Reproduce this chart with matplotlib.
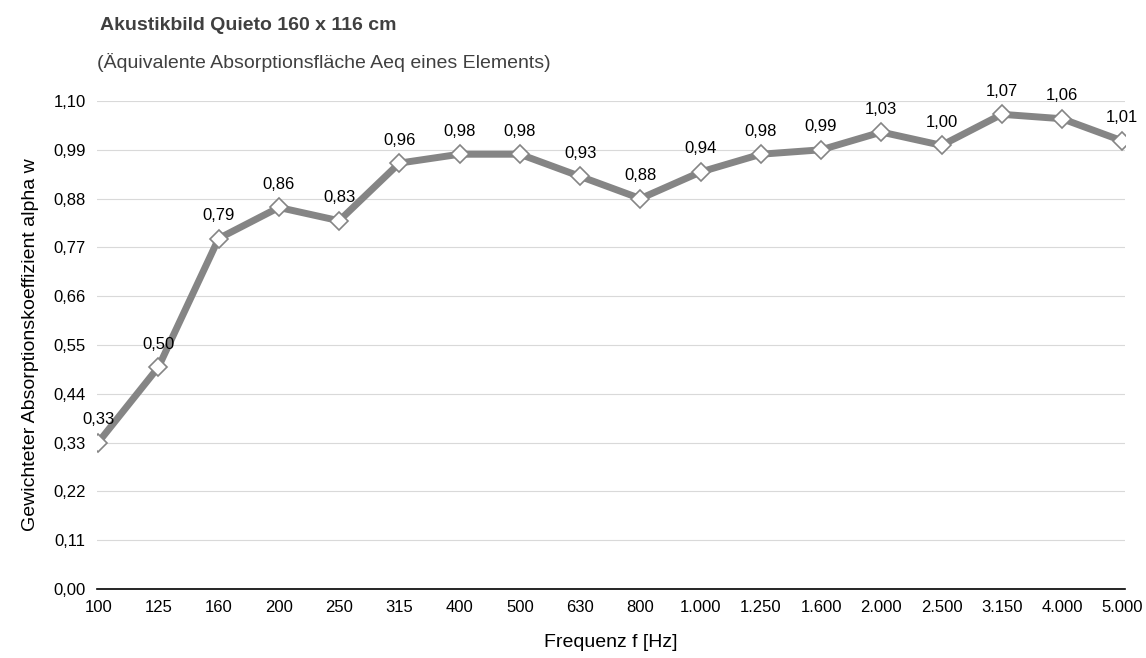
import matplotlib as mpl

mpl.use("Agg")

import matplotlib.pyplot as plt
import numpy as np

FREQ_LABELS = ["100", "125", "160", "200", "250", "315", "400", "500", "630", "800",
               "1.000", "1.250", "1.600", "2.000", "2.500", "3.150", "4.000", "5.000"]
ALPHA_VALUES = [0.33, 0.50, 0.79, 0.86, 0.83, 0.96, 0.98, 0.98, 0.93, 0.88,
                0.94, 0.98, 0.99, 1.03, 1.00, 1.07, 1.06, 1.01]
Y_TICKS = [0.00, 0.11, 0.22, 0.33, 0.44, 0.55, 0.66, 0.77, 0.88, 0.99, 1.10]

plt.rcParams["font.family"] = ["Liberation Sans", "DejaVu Sans"]

fig = plt.figure(figsize=(11.46, 6.58), dpi=100)
ax = fig.add_axes([0.0846, 0.105, 0.8974, 0.7415])

x = np.arange(len(ALPHA_VALUES))
ax.plot(x, ALPHA_VALUES, color="#858585", lw=5, zorder=3, solid_joinstyle="round")
ax.plot(x, ALPHA_VALUES, ls="none", marker="D", ms=9, mfc="white", mec="#858585",
        mew=1.2, zorder=4)
for xi, v in zip(x, ALPHA_VALUES):
    ax.text(xi, v + 0.035, f"{v:.2f}".replace(".", ","), ha="center", va="bottom",
            fontsize=12, color="black", zorder=5)

ax.set_xlim(-0.02, 17.05)
ax.set_ylim(0, 1.10)
ax.set_yticks(Y_TICKS)
ax.set_yticklabels([f"{t:.2f}".replace(".", ",") for t in Y_TICKS])
ax.set_xticks(x)
ax.set_xticklabels(FREQ_LABELS)
ax.tick_params(axis="both", length=0, labelsize=12, pad=8)
ax.grid(axis="y", color="#d9d9d9", lw=0.8)
ax.set_axisbelow(True)
for s in ["top", "right", "left"]:
    ax.spines[s].set_visible(False)
ax.spines["bottom"].set_color("black")
ax.spines["bottom"].set_linewidth(1.2)

ax.set_xlabel("Frequenz f [Hz]", fontsize=14, labelpad=14)
ax.set_ylabel("Gewichteter Absorptionskoeffizient alpha w", fontsize=14, labelpad=10)

fig.text(100 / 1146, 1 - 25 / 658, "Akustikbild Quieto 160 x 116 cm", fontsize=14,
         fontweight="bold", color="#404040", va="center")
fig.text(97 / 1146, 1 - 62 / 658, "(Äquivalente Absorptionsfläche Aeq eines Elements)",
         fontsize=14, color="#404040", va="center")

fig.savefig("out.png", dpi=100, facecolor="white")
